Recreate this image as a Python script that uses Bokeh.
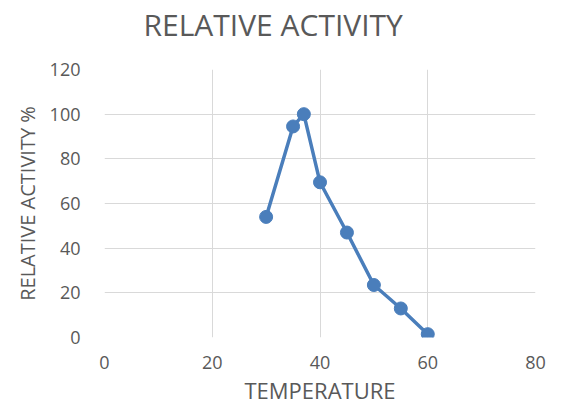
from bokeh.plotting import figure
from bokeh.embed import file_html
from bokeh.resources import INLINE
from bokeh.models import Range1d, FixedTicker, Title

temperature = [30, 35, 37, 40, 45, 50, 55, 60]
relative_activity = [54, 94.5, 100, 69.5, 47, 23.5, 13, 1.5]
x_ticks = [0, 20, 40, 60, 80]
y_ticks = [0, 20, 40, 60, 80, 100, 120]
title_text = "RELATIVE ACTIVITY"

FONT = "Open Sans"
GRAY = "#595959"
BLUE = "#4a7ebb"

p = figure(width=561, height=407, output_backend="svg", toolbar_location=None,
           x_range=Range1d(0, 80), y_range=Range1d(0, 120),
           min_border_left=104, min_border_right=26, min_border_top=69, min_border_bottom=70)

p.title.text = ""
p.title.standoff = 0

# blank spacer between the frame and the chart title
p.add_layout(Title(text=" ", text_font=FONT, text_font_size="17px", standoff=0), "above")
# chart title
p.add_layout(Title(text=title_text, align="left", offset=39, text_font=FONT,
                   text_font_size="30px", text_font_style="normal",
                   text_color=GRAY, standoff=0), "above")

p.outline_line_color = None
p.background_fill_color = "white"
p.border_fill_color = "white"

for ax in (p.xaxis[0], p.yaxis[0]):
    ax.axis_line_color = None
    ax.major_tick_line_color = None
    ax.minor_tick_line_color = None
    ax.major_label_text_font = FONT
    ax.major_label_text_font_size = "18px"
    ax.major_label_text_color = GRAY
    ax.axis_label_text_font = FONT
    ax.axis_label_text_font_style = "normal"
    ax.axis_label_text_color = GRAY

p.xaxis.axis_label_text_font_size = "22px"
p.yaxis.axis_label_text_font_size = "20px"
p.xaxis.ticker = FixedTicker(ticks=x_ticks)
p.yaxis.ticker = FixedTicker(ticks=y_ticks)
p.xaxis.axis_label = "TEMPERATURE"
p.yaxis.axis_label = "RELATIVE ACTIVITY %"
p.xaxis.major_label_standoff = 12
p.yaxis.major_label_standoff = 18
p.xaxis.axis_label_standoff = 3
p.yaxis.axis_label_standoff = 6

p.xgrid.grid_line_color = "#d9d9d9"
p.ygrid.grid_line_color = "#d9d9d9"
p.xgrid.grid_line_width = 1
p.ygrid.grid_line_width = 1

p.line(temperature, relative_activity, line_color=BLUE, line_width=3.5)
p.scatter(temperature, relative_activity, size=13, fill_color=BLUE, line_color=BLUE)

open("out.html", "w").write(file_html(p, INLINE))
